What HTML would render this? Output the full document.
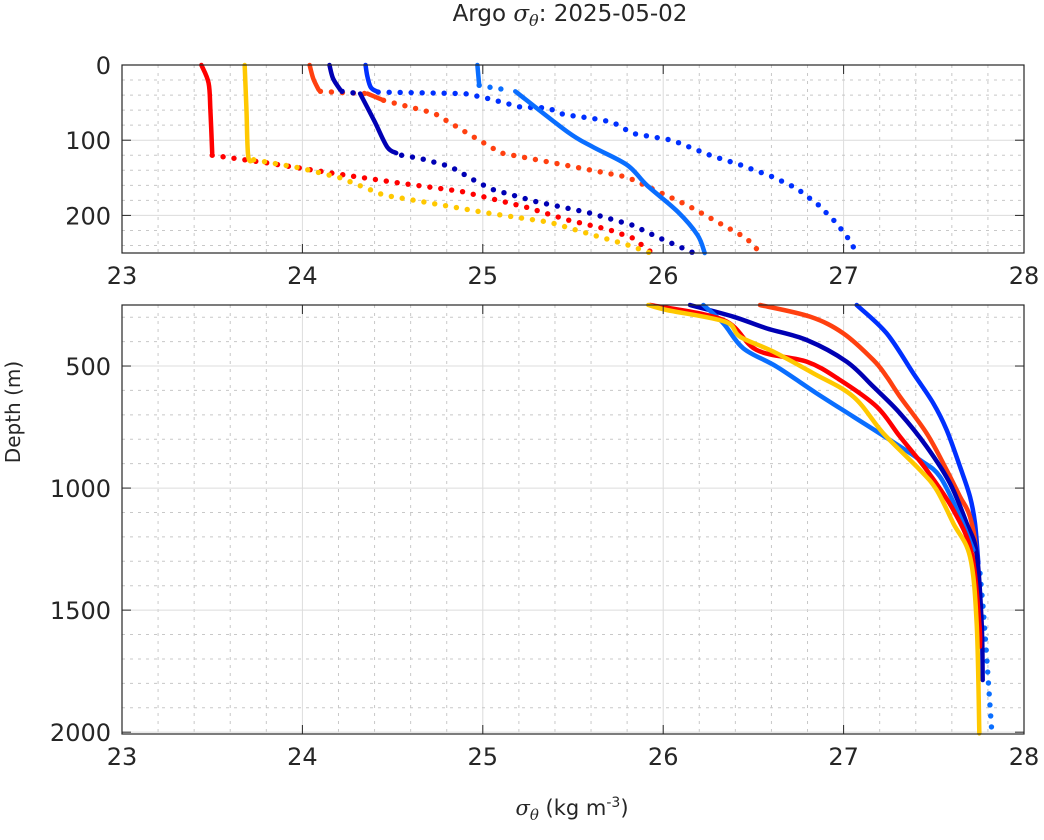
<!DOCTYPE html><html><head><meta charset="utf-8"><style>
body{margin:0;background:#fff}
svg text{font-family:"DejaVu Sans","Liberation Sans",sans-serif;fill:#262626}
</style></head><body>
<svg id="s" width="1044" height="835" xmlns="http://www.w3.org/2000/svg"></svg>
<script>
const S=document.getElementById('s');let h='';
const X=v=>122+(v-23)*180.4;
const Yt=d=>65+d*0.752;
const Yb=d=>305+(d-250)*0.2441;
const C={r:'#ff0000',y:'#ffc800',o:'#ff4010',db:'#0000b4',b:'#0030ff',lb:'#0a6eff'};
function axes(top,bot,yticks,ymin,yfn,ystepMinor,ymax){
  for(let v=23;v<=28.001;v+=0.2){const x=X(v);const maj=Math.abs(v-Math.round(v))<1e-6;
    h+=`<line x1="${x}" x2="${x}" y1="${top}" y2="${bot}" stroke="${maj?'#dcdcdc':'#c8c8c8'}" stroke-width="1" ${maj?'':'stroke-dasharray="3 5"'}/>`;}
  for(let d=ymin;d<=ymax;d+=ystepMinor){const y=yfn(d);if(y<top||y>bot)continue;const maj=yticks.includes(d);
    h+=`<line x1="122" x2="1024" y1="${y}" y2="${y}" stroke="${maj?'#dcdcdc':'#c8c8c8'}" stroke-width="1" ${maj?'':'stroke-dasharray="3 5"'}/>`;}
}
axes(65,253,[0,100,200],0,Yt,20,250);
axes(305,734,[500,1000,1500,2000],300,Yb,100,2000);
function smooth(P){
  if(P.length<3)return 'M'+P.map(p=>p.join(',')).join(' L');
  let d=`M${P[0][0]},${P[0][1]}`;
  for(let i=0;i<P.length-1;i++){const p0=P[i-1]||P[i],p1=P[i],p2=P[i+1],p3=P[i+2]||P[i+1];
    const c1=[p1[0]+(p2[0]-p0[0])/6,p1[1]+(p2[1]-p0[1])/6],c2=[p2[0]-(p3[0]-p1[0])/6,p2[1]-(p3[1]-p1[1])/6];
    d+=` C${c1[0]},${c1[1]} ${c2[0]},${c2[1]} ${p2[0]},${p2[1]}`;}
  return d;
}
function draw(P,col,dotted){
  if(!dotted){h+=`<path d="${smooth(P)}" fill="none" stroke="${col}" stroke-width="4.5" stroke-linejoin="round" stroke-linecap="round"/>`;return;}
  let acc=0;const step=11;
  for(let i=0;i<P.length-1;i++){const [x1,y1]=P[i],[x2,y2]=P[i+1];const L=Math.hypot(x2-x1,y2-y1);
    while(acc<=L){const t=acc/L;h+=`<circle cx="${x1+(x2-x1)*t}" cy="${y1+(y2-y1)*t}" r="2.7" fill="${col}"/>`;acc+=step;}acc-=L;}
}
function seg(pts,col,dotted){draw(pts.map(p=>[X(p[0]),Yt(p[1])]),col,dotted);}
seg([[23.44,0],[23.48,24],[23.49,60],[23.5,117]],C.r,0);
seg([[23.5,120],[23.8,130],[24.17,144],[24.54,157],[24.88,168],[25.24,189],[25.47,206],[25.7,219],[25.83,230],[25.94,250]],C.r,1);
seg([[23.68,0],[23.69,60],[23.7,122],[23.73,126]],C.y,0);
seg([[23.73,126],[23.99,137],[24.21,150],[24.45,173],[24.72,184],[25.03,197],[25.37,209],[25.61,226],[25.8,239],[25.93,250]],C.y,1);
seg([[24.04,0],[24.06,18],[24.09,33]],C.o,0);
seg([[24.1,35],[24.24,37],[24.36,38]],C.o,1);
seg([[24.36,38],[24.45,47]],C.o,0);
seg([[24.45,47],[24.73,64],[24.91,90],[25.1,117],[25.41,131],[25.8,149],[26.13,186],[26.31,210],[26.46,230],[26.54,250]],C.o,1);
seg([[24.15,0],[24.17,18],[24.21,33]],C.db,0);
seg([[24.22,35],[24.28,37],[24.32,38]],C.db,1);
seg([[24.32,38],[24.4,75],[24.47,109],[24.52,117]],C.db,0);
seg([[24.55,120],[24.65,124],[24.82,135],[24.98,157],[25.06,166],[25.3,182],[25.58,196],[25.83,213],[25.97,229],[26.17,250]],C.db,1);
seg([[24.35,0],[24.36,15],[24.38,30],[24.42,36]],C.b,0);
seg([[24.42,36],[24.9,38],[25.02,44],[25.21,56],[25.36,57],[25.45,66],[25.61,71],[25.72,76],[25.83,91],[26.05,100],[26.26,120],[26.43,133],[26.61,149],[26.74,164],[26.86,186],[26.96,210],[27.04,235],[27.07,250]],C.b,1);
seg([[24.97,0],[24.98,27]],C.lb,0);
seg([[24.98,27],[25.05,30],[25.13,33]],C.lb,1);
seg([[25.18,35],[25.47,89],[25.61,109],[25.8,133],[25.91,160],[26.08,195],[26.19,226],[26.23,250]],C.lb,0);
function Z(arr,col,dotted){draw(arr.map(p=>[600+p[0]/3,290+p[1]/3]),col,dotted);}
Z([[770,45],[860,130],[940,250],[1000,340],[1040,420],[1080,530],[1110,620],[1125,700],[1135,820]],C.b,0);
Z([[1140,850],[1150,960],[1160,1100],[1175,1320]],C.lb,1);
Z([[480,45],[630,80],[730,130],[820,210],[860,260],[900,320],[980,430],[1040,540],[1080,620],[1110,680],[1130,800],[1140,1060]],C.o,0);
Z([[270,45],[400,80],[500,115],[620,150],[740,215],[820,290],[900,370],[980,470],[1050,580],[1100,700],[1130,790],[1145,1000],[1148,1170]],C.db,0);
Z([[310,45],[370,100],[430,175],[530,230],[650,310],[760,380],[870,450],[960,510],[1020,560],[1080,680],[1120,780]],C.lb,0);
Z([[150,45],[370,90],[470,180],[620,215],[720,270],[830,350],[900,440],[980,540],[1060,660],[1115,790],[1138,1000],[1140,1070]],C.r,0);
Z([[145,45],[200,60],[375,95],[420,140],[520,185],[640,250],[760,320],[850,430],[960,540],[1010,600],[1060,700],[1110,800],[1130,1000],[1138,1330]],C.y,0);
function frame(top,bot,yt,yfn){
  h+=`<rect x="122" y="${top}" width="902" height="${bot-top}" fill="none" stroke="#262626" stroke-width="1.2"/>`;
  for(let v=23;v<=28;v++){const x=X(v);h+=`<line x1="${x}" x2="${x}" y1="${bot}" y2="${bot-9}" stroke="#262626"/><line x1="${x}" x2="${x}" y1="${top}" y2="${top+9}" stroke="#262626"/><text x="${x}" y="${bot+31}" font-size="24" text-anchor="middle">${v}</text>`;}
  for(const d of yt){const y=yfn(d);h+=`<line x1="122" x2="131" y1="${y}" y2="${y}" stroke="#262626"/><line x1="1015" x2="1024" y1="${y}" y2="${y}" stroke="#262626"/><text x="111" y="${y+9}" font-size="24" text-anchor="end">${d}</text>`;}
}
frame(65,253,[0,100,200],Yt);
frame(305,734,[500,1000,1500,2000],Yb);
h+=`<text x="570" y="21" font-size="23" text-anchor="middle">Argo <tspan font-family="DejaVu Serif" font-style="italic">σ<tspan font-size="16" dy="5">θ</tspan></tspan><tspan dy="-5">: 2025-05-02</tspan></text>`;
h+=`<text x="572" y="815" font-size="21" text-anchor="middle"><tspan font-family="DejaVu Serif" font-style="italic">σ<tspan font-size="15" dy="5">θ</tspan></tspan><tspan dy="-5"> (kg m</tspan><tspan font-size="14" dy="-8">-3</tspan><tspan dy="8">)</tspan></text>`;
h+=`<text transform="translate(20,412) rotate(-90)" font-size="20" text-anchor="middle">Depth (m)</text>`;
S.innerHTML=h;
</script></body></html>
